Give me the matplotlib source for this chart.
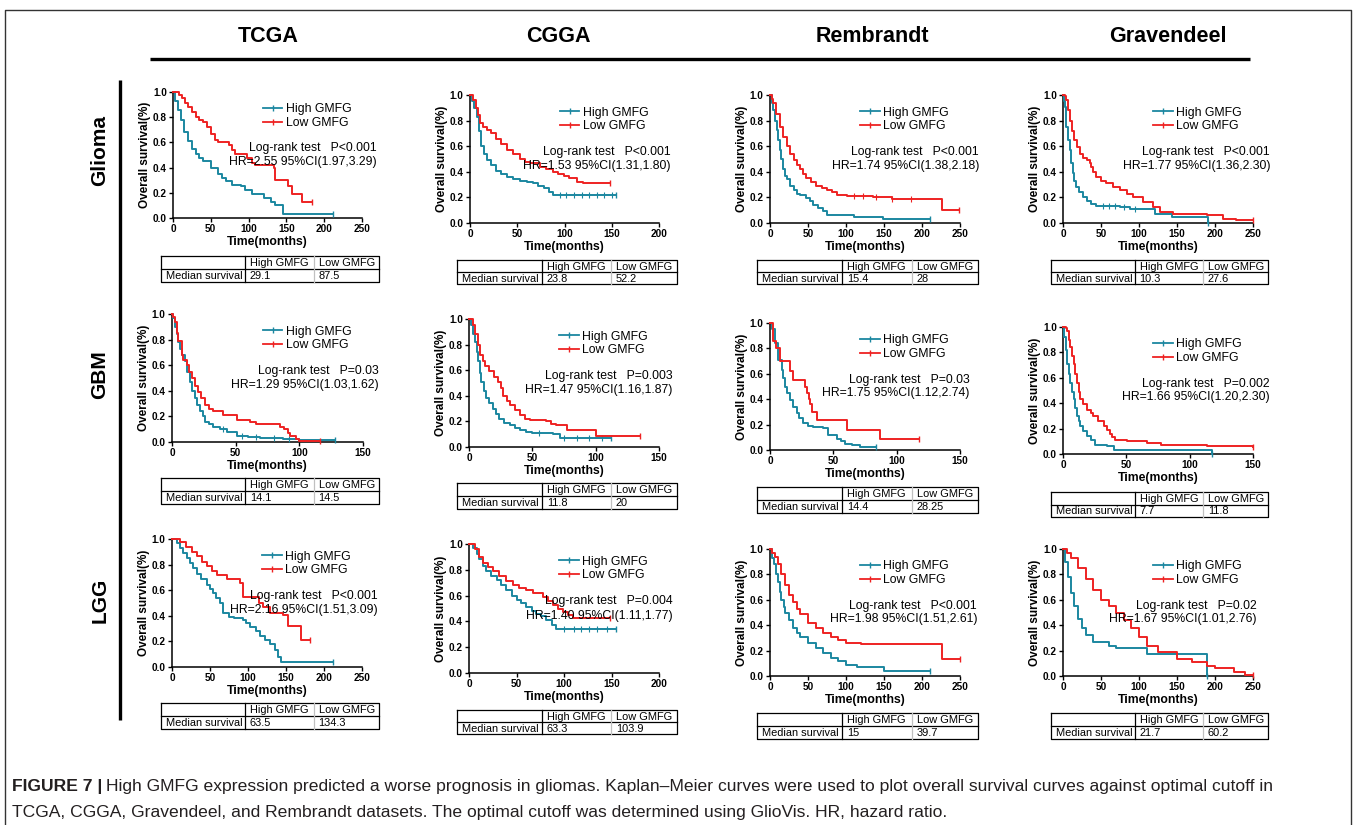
#!/usr/bin/env python3
# -*- coding: utf-8 -*-
"""
Kaplan-Meier survival panels (High vs Low GMFG) for TCGA / CGGA / Rembrandt / Gravendeel
- 3 rows (Glioma, GBM, LGG) x 4 datasets
- Saves plot to out.png
"""

import matplotlib
matplotlib.use("Agg")
import matplotlib.pyplot as plt
from matplotlib.lines import Line2D
from matplotlib.ticker import FormatStrFormatter

plt.rcParams["font.family"] = ["Liberation Sans", "DejaVu Sans"]

W, H = 1357, 825

# ---- names ----
datasets = ["TCGA", "CGGA", "Rembrandt", "Gravendeel"]
groups = ["Glioma", "GBM", "LGG"]
legend_labels = ["High GMFG", "Low GMFG"]

# ---- x range of each panel (months) ----
xmax_glioma = [250, 200, 250, 250]
xmax_gbm = [150, 150, 150, 150]
xmax_lgg = [250, 200, 250, 250]

# ---- log-rank / HR text ----
p_glioma = ["P<0.001", "P<0.001", "P<0.001", "P<0.001"]
p_gbm = ["P=0.03", "P=0.003", "P=0.03", "P=0.002"]
p_lgg = ["P<0.001", "P=0.004", "P<0.001", "P=0.02"]
hr_glioma = ["HR=2.55 95%CI(1.97,3.29)", "HR=1.53 95%CI(1.31,1.80)",
             "HR=1.74 95%CI(1.38,2.18)", "HR=1.77 95%CI(1.36,2.30)"]
hr_gbm = ["HR=1.29 95%CI(1.03,1.62)", "HR=1.47 95%CI(1.16,1.87)",
          "HR=1.75 95%CI(1.12,2.74)", "HR=1.66 95%CI(1.20,2.30)"]
hr_lgg = ["HR=2.16 95%CI(1.51,3.09)", "HR=1.40 95%CI(1.11,1.77)",
          "HR=1.98 95%CI(1.51,2.61)", "HR=1.67 95%CI(1.01,2.76)"]

# ---- median survival (High, Low) ----
med_high_glioma = ["29.1", "23.8", "15.4", "10.3"]
med_low_glioma = ["87.5", "52.2", "28", "27.6"]
med_high_gbm = ["14.1", "11.8", "14.4", "7.7"]
med_low_gbm = ["14.5", "20", "28.25", "11.8"]
med_high_lgg = ["63.5", "63.3", "15", "21.7"]
med_low_lgg = ["134.3", "103.9", "39.7", "60.2"]

# ---- KM curves: (time, survival) step points ----
tcga_glioma_high = [(0, 1.0), (3, 0.93), (6, 0.86), (10, 0.78), (15, 0.68), (20, 0.61), (25, 0.55),
                    (30, 0.51), (35, 0.48), (40, 0.45), (50, 0.40), (60, 0.35), (65, 0.32), (70, 0.29),
                    (78, 0.26), (90, 0.25), (95, 0.22), (105, 0.19), (120, 0.16), (130, 0.13),
                    (135, 0.10), (146, 0.035), (212, 0.035)]
tcga_glioma_low = [(0, 1.0), (8, 0.98), (12, 0.95), (16, 0.91), (20, 0.88), (25, 0.84), (30, 0.80),
                   (35, 0.78), (40, 0.76), (45, 0.72), (50, 0.67), (55, 0.62), (60, 0.60), (74, 0.58),
                   (78, 0.54), (82, 0.51), (98, 0.48), (105, 0.44), (108, 0.42), (133, 0.40),
                   (135, 0.30), (147, 0.30), (152, 0.25), (157, 0.19), (171, 0.13), (184, 0.13)]
cgga_glioma_high = [(0, 1.0), (2, 0.95), (4, 0.90), (7, 0.83), (9, 0.72), (12, 0.60), (15, 0.54),
                    (18, 0.49), (22, 0.45), (28, 0.41), (33, 0.38), (39, 0.36), (46, 0.345), (53, 0.33),
                    (60, 0.32), (67, 0.31), (72, 0.29), (78, 0.27), (84, 0.24), (88, 0.22), (155, 0.22)]
cgga_glioma_low = [(0, 1.0), (3.5, 0.96), (6, 0.90), (8, 0.84), (10.6, 0.78), (14, 0.75), (17.6, 0.73),
                   (22, 0.70), (28, 0.66), (33, 0.62), (39, 0.57), (45, 0.54), (53, 0.50), (58, 0.48),
                   (63, 0.465), (74, 0.44), (80, 0.42), (88, 0.40), (93, 0.385), (99, 0.37),
                   (105, 0.35), (113, 0.32), (120, 0.31), (148, 0.31)]
remb_glioma_high = [(0, 1.0), (2, 0.94), (4.4, 0.88), (6.5, 0.80), (8.8, 0.73), (11, 0.65), (13, 0.57),
                    (15, 0.50), (17.5, 0.42), (20, 0.37), (22, 0.34), (26, 0.29), (31, 0.26), (36, 0.23),
                    (40, 0.22), (48, 0.195), (53, 0.17), (57, 0.14), (63, 0.12), (70, 0.09),
                    (75, 0.065), (110, 0.05), (149, 0.03), (210, 0.03)]
remb_glioma_low = [(0, 1.0), (2, 0.97), (4.4, 0.94), (8, 0.85), (13, 0.75), (17, 0.67), (22, 0.60),
                   (26, 0.54), (31, 0.49), (35, 0.45), (40, 0.42), (44, 0.38), (48, 0.35), (54, 0.32),
                   (61, 0.29), (68, 0.27), (75, 0.26), (82, 0.24), (88, 0.22), (101, 0.21),
                   (136, 0.20), (160, 0.19), (226, 0.10), (249, 0.10)]
grav_glioma_high = [(0, 1.0), (1, 0.95), (2.2, 0.91), (3.3, 0.83), (4.4, 0.75), (6.6, 0.65), (8.8, 0.57),
                    (11, 0.47), (13, 0.39), (15, 0.33), (17.5, 0.28), (21, 0.24), (26, 0.20), (31, 0.17),
                    (37, 0.15), (44, 0.13), (75, 0.125), (88, 0.11), (121, 0.07), (143, 0.05), (191, 0.0)]
grav_glioma_low = [(0, 1.0), (2, 0.99), (4.4, 0.96), (6.6, 0.88), (8.8, 0.80), (12, 0.72), (15, 0.65),
                   (18, 0.59), (22, 0.54), (26, 0.51), (31, 0.49), (35, 0.47), (37, 0.44), (40, 0.40),
                   (44, 0.36), (50, 0.33), (57, 0.31), (66, 0.28), (75, 0.26), (84, 0.23), (92, 0.20),
                   (105, 0.165), (118, 0.125), (127, 0.085), (145, 0.07), (189, 0.06), (210, 0.035),
                   (228, 0.02), (250, 0.02)]

tcga_gbm_high = [(0, 1.0), (1, 0.97), (2.5, 0.90), (3.7, 0.84), (5, 0.78), (6.3, 0.73), (8, 0.68),
                 (10, 0.63), (12, 0.55), (14, 0.47), (16, 0.40), (18, 0.34), (20, 0.29), (22, 0.24),
                 (24, 0.20), (26, 0.16), (29, 0.14), (32, 0.12), (38, 0.10), (43, 0.08), (51, 0.05),
                 (60, 0.04), (69, 0.03), (87, 0.02), (100, 0.013), (128, 0.013)]
tcga_gbm_low = [(0, 1.0), (1, 0.98), (2.4, 0.94), (4, 0.85), (5, 0.79), (7.6, 0.68), (9, 0.64),
                (11.5, 0.60), (13, 0.55), (15.4, 0.50), (18, 0.44), (20.7, 0.39), (23, 0.34), (26, 0.29),
                (29, 0.26), (32, 0.24), (40, 0.21), (51, 0.17), (61, 0.16), (66, 0.14), (85, 0.12),
                (88, 0.10), (91, 0.07), (93, 0.05), (97, 0.02), (100, 0.01), (116, 0.005)]
cgga_gbm_high = [(0, 1.0), (1.8, 0.95), (3, 0.88), (4.5, 0.82), (6, 0.74), (7, 0.67), (8.5, 0.58),
                 (9.7, 0.51), (11.5, 0.44), (13.7, 0.38), (16, 0.34), (19, 0.30), (21, 0.26), (24, 0.22),
                 (28, 0.19), (32, 0.17), (36, 0.15), (40, 0.13), (45, 0.12), (50, 0.11), (66, 0.10),
                 (71.6, 0.07), (112, 0.07)]
cgga_gbm_low = [(0, 1.0), (3, 0.95), (5, 0.88), (7, 0.80), (9, 0.72), (11, 0.67), (13, 0.63), (16, 0.59),
                (20, 0.55), (23, 0.51), (25, 0.46), (27, 0.40), (30, 0.36), (32, 0.33), (36, 0.29),
                (40, 0.25), (44, 0.22), (48, 0.21), (61, 0.20), (65, 0.18), (69, 0.17), (77, 0.13),
                (100, 0.085), (135, 0.085)]
remb_gbm_high = [(0, 1.0), (1.3, 0.95), (4, 0.84), (6.6, 0.71), (9.2, 0.63), (10.5, 0.57), (11.8, 0.50),
                 (13.5, 0.45), (15.8, 0.39), (18, 0.34), (21, 0.29), (23, 0.25), (26, 0.21), (30, 0.19),
                 (34, 0.18), (42, 0.17), (46, 0.12), (52.6, 0.09), (56, 0.07), (59, 0.05), (65, 0.04),
                 (71, 0.026), (84, 0.026)]
remb_gbm_low = [(0, 1.0), (2.6, 0.86), (5, 0.80), (7.9, 0.70), (15.8, 0.62), (18, 0.55), (28, 0.50),
                (29.5, 0.45), (30.5, 0.40), (31.6, 0.36), (33, 0.30), (37, 0.24), (61, 0.16),
                (87, 0.084), (118, 0.084)]
grav_gbm_high = [(0, 1.0), (1, 0.92), (2, 0.82), (3, 0.71), (4.5, 0.63), (5.8, 0.56), (7, 0.49),
                 (8.4, 0.43), (9.7, 0.36), (11, 0.30), (12.4, 0.26), (13.7, 0.22), (16, 0.18), (19, 0.14),
                 (22, 0.11), (25.5, 0.07), (35, 0.06), (40, 0.035), (118, 0.0)]
grav_gbm_low = [(0, 1.0), (2, 0.99), (3, 0.97), (4.5, 0.90), (5.8, 0.84), (7, 0.77), (8.4, 0.71),
                (9.7, 0.63), (11, 0.56), (12.4, 0.49), (13.7, 0.43), (16, 0.39), (19, 0.35), (22, 0.32),
                (24, 0.30), (28, 0.26), (32, 0.22), (35, 0.19), (37, 0.16), (39, 0.13), (41, 0.11),
                (50.5, 0.10), (66, 0.086), (77, 0.073), (114, 0.06), (150, 0.055)]

tcga_lgg_high = [(0, 1.0), (6, 0.97), (10, 0.93), (15, 0.89), (20, 0.85), (24, 0.81), (28, 0.77),
                 (32.5, 0.73), (38, 0.69), (45.6, 0.64), (50, 0.61), (54, 0.58), (58, 0.54), (63, 0.50),
                 (67.5, 0.42), (75, 0.39), (81, 0.38), (94, 0.37), (98, 0.34), (103, 0.31), (110, 0.28),
                 (116, 0.24), (122, 0.21), (129, 0.18), (135, 0.13), (140, 0.08), (144, 0.04), (212, 0.04)]
tcga_lgg_low = [(0, 1.0), (10.5, 0.98), (19, 0.94), (26, 0.90), (32.5, 0.87), (40, 0.82), (45.6, 0.79),
                (52, 0.75), (59, 0.72), (72, 0.69), (89.5, 0.66), (94, 0.55), (107, 0.55), (115, 0.50),
                (120, 0.47), (129, 0.42), (146, 0.41), (153, 0.32), (170, 0.21), (182, 0.21)]
cgga_lgg_high = [(0, 1.0), (4.2, 0.97), (8, 0.92), (11, 0.88), (15, 0.83), (18, 0.79), (23, 0.75),
                 (29, 0.72), (34, 0.68), (39, 0.64), (45, 0.60), (50, 0.565), (55, 0.54), (60, 0.51),
                 (66, 0.48), (71, 0.46), (76, 0.44), (81, 0.41), (87, 0.37), (92, 0.34), (155, 0.34)]
cgga_lgg_low = [(0, 1.0), (6, 0.96), (10, 0.90), (14.7, 0.85), (20, 0.82), (25, 0.79), (32, 0.75),
                (39, 0.71), (46, 0.68), (53, 0.66), (60, 0.64), (67, 0.62), (78, 0.59), (83, 0.56),
                (88, 0.53), (94, 0.50), (99, 0.47), (104, 0.45), (109, 0.43), (148, 0.43)]
remb_lgg_high = [(0, 1.0), (3, 0.93), (5, 0.88), (8, 0.80), (10, 0.74), (13, 0.66), (15, 0.60),
                 (18, 0.54), (20, 0.50), (25, 0.44), (30, 0.38), (35, 0.34), (40, 0.31), (50, 0.26),
                 (60, 0.22), (70, 0.18), (80, 0.14), (90, 0.12), (100, 0.09), (115, 0.07), (150, 0.04),
                 (210, 0.04)]
remb_lgg_low = [(0, 1.0), (3, 0.97), (6, 0.94), (10, 0.88), (15, 0.80), (20, 0.72), (25, 0.64),
                (30, 0.58), (35, 0.53), (40, 0.49), (50, 0.42), (60, 0.38), (70, 0.34), (80, 0.31),
                (90, 0.28), (100, 0.26), (120, 0.25), (226, 0.13), (250, 0.13)]
grav_lgg_high = [(0, 1.0), (3, 0.90), (6, 0.78), (10, 0.65), (15, 0.55), (20, 0.45), (25, 0.38),
                 (30, 0.32), (40, 0.27), (60, 0.24), (70, 0.22), (110, 0.17), (190, 0.0)]
grav_lgg_low = [(0, 1.0), (5, 0.97), (10, 0.93), (20, 0.85), (30, 0.76), (40, 0.68), (50, 0.60),
                (60, 0.55), (70, 0.50), (80, 0.44), (90, 0.38), (100, 0.31), (110, 0.24), (125, 0.19),
                (150, 0.13), (170, 0.11), (190, 0.08), (200, 0.06), (225, 0.03), (240, 0.01), (250, 0.01)]

# ---- some visible censor ticks (months) ----
cens_cgga_glioma_high = [95, 102, 110, 118, 126, 134, 142, 150]
cens_remb_glioma_low = [110, 122, 140, 160, 185]
cens_grav_glioma_high = [52, 60, 68, 80, 95]
cens_tcga_gbm_high = [40, 55, 66, 80, 92]
cens_cgga_gbm_high = [55, 75, 85, 95, 105]
cens_cgga_lgg_high = [100, 110, 118, 126, 135, 145]

# ---- colours ----
c_high = "#1b87a0"
c_low = "#ee2222"

high_rows = [[tcga_glioma_high, cgga_glioma_high, remb_glioma_high, grav_glioma_high],
             [tcga_gbm_high, cgga_gbm_high, remb_gbm_high, grav_gbm_high],
             [tcga_lgg_high, cgga_lgg_high, remb_lgg_high, grav_lgg_high]]
low_rows = [[tcga_glioma_low, cgga_glioma_low, remb_glioma_low, grav_glioma_low],
            [tcga_gbm_low, cgga_gbm_low, remb_gbm_low, grav_gbm_low],
            [tcga_lgg_low, cgga_lgg_low, remb_lgg_low, grav_lgg_low]]
xmax_rows = [xmax_glioma, xmax_gbm, xmax_lgg]
p_rows = [p_glioma, p_gbm, p_lgg]
hr_rows = [hr_glioma, hr_gbm, hr_lgg]
medh_rows = [med_high_glioma, med_high_gbm, med_high_lgg]
medl_rows = [med_low_glioma, med_low_gbm, med_low_lgg]
cens_high = {(0, 1): cens_cgga_glioma_high, (0, 3): cens_grav_glioma_high,
             (1, 0): cens_tcga_gbm_high, (1, 1): cens_cgga_gbm_high, (2, 1): cens_cgga_lgg_high}
cens_low = {(0, 2): cens_remb_glioma_low}

# ---- layout in pixels: axes (left, right, top, bottom), table (left, right, top, bottom) ----
axes_px = [[(173, 362, 92, 218), (470, 659, 95, 223), (770, 960, 95, 223), (1063, 1253, 95, 223)],
           [(172, 363, 314, 442), (469, 659, 319, 447), (770, 960, 323, 450), (1063, 1253, 327, 454)],
           [(172, 362, 539, 667), (469, 659, 544, 673), (770, 960, 549, 676), (1063, 1253, 549, 676)]]
table_px = [[(161, 379, 256, 282), (457, 677, 260, 284), (757, 978, 260, 284), (1051, 1268, 260, 284)],
            [(161, 379, 478, 504), (457, 677, 483, 509), (757, 978, 487, 513), (1051, 1268, 492, 517)],
            [(161, 379, 703, 729), (457, 677, 710, 734), (757, 978, 713, 739), (1051, 1268, 713, 739)]]
stat_x = [[1.08, 1.06, 1.10, 1.09], [1.08, 1.07, 1.05, 1.09], [1.08, 1.07, 1.09, 1.02]]
head_x = [268, 558, 872, 1168]
row_y = [150, 375, 600]


def surv_at(curve, t):
    s = curve[0][1]
    for ti, si in curve:
        if ti <= t:
            s = si
    return s


fig = plt.figure(figsize=(W / 100, H / 100), dpi=100)

# ---- overlay for frame, headers and tables ----
ov = fig.add_axes([0, 0, 1, 1])
ov.set_xlim(0, W)
ov.set_ylim(H, 0)
ov.axis("off")
ov.plot([5, 5, 1351, 1351], [H + 5, 10, 10, H + 5], color="#333333", lw=1.0)
ov.plot([150, 1250], [59, 59], color="black", lw=2.4, solid_capstyle="butt")
ov.plot([120, 120], [80, 720], color="black", lw=2.4, solid_capstyle="butt")
for name, x in zip(datasets, head_x):
    ov.text(x, 36, name, ha="center", va="center", fontsize=15.5, fontweight="bold")
for name, y in zip(groups, row_y):
    ov.text(100, y, name, ha="center", va="center", fontsize=15, fontweight="bold", rotation=90)

for r in range(3):
    for c in range(4):
        l, rr, t, b = table_px[r][c]
        c1 = l + 0.385 * (rr - l)
        c2 = l + 0.70 * (rr - l)
        m = (t + b) / 2
        ov.plot([l, rr, rr, l, l], [t, t, b, b, t], color="black", lw=0.9)
        ov.plot([l, rr], [m, m], color="black", lw=0.9)
        ov.plot([c1, c1], [t, b], color="black", lw=0.9)
        ov.plot([c2, c2], [t, b], color="#c0c0c0", lw=0.9)
        fs = 7.9
        ov.text(c1 + 5, (t + m) / 2 + 0.5, "High GMFG", ha="left", va="center", fontsize=fs)
        ov.text(c2 + 5, (t + m) / 2 + 0.5, "Low GMFG", ha="left", va="center", fontsize=fs)
        ov.text(l + 5, (m + b) / 2 + 0.5, "Median survival", ha="left", va="center", fontsize=fs)
        ov.text(c1 + 5, (m + b) / 2 + 0.5, medh_rows[r][c], ha="left", va="center", fontsize=fs)
        ov.text(c2 + 5, (m + b) / 2 + 0.5, medl_rows[r][c], ha="left", va="center", fontsize=fs)

# ---- KM panels ----
handles = [Line2D([0], [0], color=c_high, lw=1.3, marker="|", ms=4, mew=1),
           Line2D([0], [0], color=c_low, lw=1.3, marker="|", ms=4, mew=1)]
for r in range(3):
    for c in range(4):
        l, rr, t, b = axes_px[r][c]
        ax = fig.add_axes([l / W, 1 - b / H, (rr - l) / W, (b - t) / H])
        ax.patch.set_alpha(0)
        for curve, col, cens in [(high_rows[r][c], c_high, cens_high.get((r, c), [])),
                                 (low_rows[r][c], c_low, cens_low.get((r, c), []))]:
            tt = [p[0] for p in curve]
            ss = [p[1] for p in curve]
            ax.step(tt, ss, where="post", color=col, lw=1.4, clip_on=False, zorder=3)
            ax.plot([tt[-1]], [ss[-1]], marker="|", ms=4, mew=1, color=col, clip_on=False, zorder=3)
            if cens:
                ax.plot(cens, [surv_at(curve, x) for x in cens], ls="none", marker="|", ms=4,
                        mew=0.8, color=col, clip_on=False, zorder=3)
        xm = xmax_rows[r][c]
        ax.set_xlim(0, xm)
        ax.set_ylim(0, 1.0)
        ax.set_xticks(list(range(0, xm + 1, 50)))
        ax.set_yticks([0.0, 0.2, 0.4, 0.6, 0.8, 1.0])
        ax.yaxis.set_major_formatter(FormatStrFormatter("%.1f"))
        for s in ["top", "right"]:
            ax.spines[s].set_visible(False)
        for s in ["left", "bottom"]:
            ax.spines[s].set_linewidth(1.1)
        ax.tick_params(labelsize=7.2, length=3, width=1.0, pad=1.5)
        for lbl in ax.get_xticklabels() + ax.get_yticklabels():
            lbl.set_fontweight("bold")
        ax.set_xlabel("Time(months)", fontsize=8.8, fontweight="bold", labelpad=1.0)
        ax.set_ylabel("Overall survival(%)", fontsize=8.5, fontweight="bold", labelpad=1.5)
        ax.legend(handles, legend_labels, loc="upper left", bbox_to_anchor=(0.475, 0.91),
                  frameon=False, fontsize=8.8, handlelength=1.6, handletextpad=0.3,
                  labelspacing=0.15, borderpad=0, borderaxespad=0)
        ax.text(stat_x[r][c], 0.555, "Log-rank test   " + p_rows[r][c], transform=ax.transAxes,
                ha="right", va="center", fontsize=8.8)
        ax.text(stat_x[r][c], 0.445, hr_rows[r][c], transform=ax.transAxes,
                ha="right", va="center", fontsize=8.8)

# ---- caption ----
cap_fs = 12.6
t1 = ov.text(12, 787, "FIGURE 7 |", ha="left", va="center", fontsize=cap_fs, fontweight="bold",
             color="#231f20")
renderer = fig.canvas.get_renderer()
bb = t1.get_window_extent(renderer=renderer)
x_end = bb.x1 + 4
ov.text(x_end, 787, "High GMFG expression predicted a worse prognosis in gliomas. Kaplan\u2013Meier curves "
        "were used to plot overall survival curves against optimal cutoff in", ha="left", va="center",
        fontsize=cap_fs, color="#231f20")
ov.text(12, 813, "TCGA, CGGA, Gravendeel, and Rembrandt datasets. The optimal cutoff was determined "
        "using GlioVis. HR, hazard ratio.", ha="left", va="center", fontsize=cap_fs, color="#231f20")

fig.savefig("out.png", dpi=100)
print("[Saved] out.png")
